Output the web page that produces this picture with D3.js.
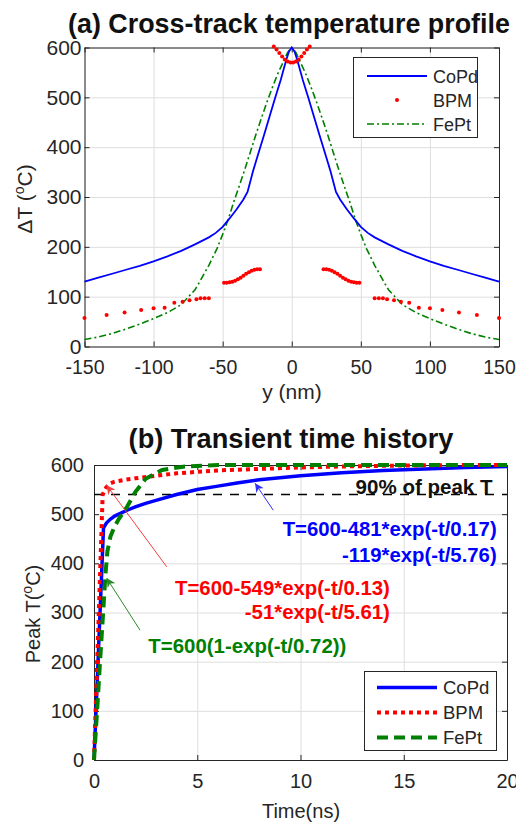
<!DOCTYPE html>
<html>
<head>
<meta charset="utf-8">
<script src="https://cdn.jsdelivr.net/npm/d3@7"></script>
<style>
  body { margin: 0; background: #fff; }
  svg { display: block; font-family: "Liberation Sans", Arial, sans-serif; }
</style>
</head>
<body>
<div id="chart"></div>
<script>
// ---- panel (a): cross-track profile ----
const copdY = [-150,-140,-130,-120,-110,-100,-90,-80,-70,-60,-55,-50,-45,-40,-35,-32,-28,-24,-20,-16,-12,-8,-6,-4,-2,0,2,4,6,8,12,16,20,24,28,32,35,40,45,50,55,60,70,80,90,100,110,120,130,140,150];
const copdT = [130,138,146,154,162,171,181,192,205,219,228,240,257,275,295,310,352,389,425,462,499,535,555,575,592,600,592,575,555,535,499,462,425,389,352,310,295,275,257,240,228,219,205,192,181,171,162,154,146,138,130];

const feptY = [-150,-140,-130,-120,-110,-100,-90,-80,-70,-66,-60,-54,-50,-46,-42,-38,-34,-30,-26,-22,-18,-14,-10,-6,-3,0,3,6,10,14,18,22,26,30,34,38,42,46,50,54,60,66,70,80,90,100,110,120,130,140,150];
const feptT = [14,19,26,35,45,56,68,84,114,133,163,197,225,255,290,322,355,390,425,458,490,520,548,572,590,600,590,572,548,520,490,458,425,390,355,322,290,255,225,197,163,133,114,84,68,56,45,35,26,19,14];

const bpmY = [-150,-134,-121,-109,-100,-92,-85,-79,-74,-69,-66,-63,-60,
  -49,-47,-45,-43,-41,-39,-37,-35,-33,-31,-29,-27,-25,-23,
  -13,-11,-9,-7,-5,-3,-1,1,3,5,7,9,11,13,
  23,25,27,29,31,33,35,37,39,41,43,45,47,49,
  60,63,66,69,74,79,85,92,100,109,121,134,150];
const bpmT = [57,63,68,73,77,78,88,90,93,95,97,97,97,
  128,128,129,130,132,135,138,142,146,149,152,154,155,155,
  602,596,589,582,576,572,570,570,572,576,582,589,596,602,
  155,155,154,152,149,146,142,138,135,132,130,129,128,128,
  97,97,97,95,93,90,88,78,77,73,68,63,57];

const xTicksA = [-150,-100,-50,0,50,100,150];
const yTicks = [0,100,200,300,400,500,600];

// ---- panel (b): transient history ----
const timeCoPd = [0,0.46,0.6,0.8,1,1.2,1.6,2,2.5,3,4,5,6,7,8,10,12,14,16,18,20];
const peakCoPd = [0,472,482,490,496,500,508,515,522,528,540,550,557,564,570,578,584,589,592,595,597];

const timeBPM = [0,0.42,0.6,0.8,1,1.5,2,3,4,5,6,8,10,12,15,18,20];
const peakBPM = [0,540,555,563,566,570,573,578,583,586,589,592,595,597,599,600,600];

const timeFePt = [0,0.15,0.3,0.45,0.55,0.65,0.8,1,1.2,1.6,2,2.5,3.3,4.4,6,8,20];
const peakFePt = [0,100,205,305,375,425,455,475,490,515,545,572,590,597,600,600,600];

const xTicksB = [0,5,10,15,20];
const peakLevel = 540; // 90% of peak T

// ---- helpers ----
const W = 516, H = 824;
const svg = d3.select("#chart").append("svg").attr("width", W).attr("height", H);
const axisCol = "#262626";
const blue = "#0000ff", red = "#ff0000", green = "#008000";

function zip(a, b) { return a.map((v, i) => [v, b[i]]); }

// shrink/grow a text's font so it spans the width seen in the reference
function fit(sel, w) {
  const len = sel.node().getComputedTextLength();
  const fs = parseFloat(sel.style("font-size"));
  sel.style("font-size", (fs * w / len).toFixed(2) + "px");
  return sel;
}

function frame(x, y, xt, yt, xfs, yfs, yPad) {
  const [x0, x1] = x.range(), [y0, y1] = y.range();
  const g = svg.append("g");
  const fmt = d => String(d);
  // grid
  const grid = g.append("g");
  grid.append("g").attr("transform", `translate(0,${y0})`)
    .call(d3.axisBottom(x).tickValues(xt).tickSize(-(y0 - y1)).tickFormat(""));
  grid.append("g").attr("transform", `translate(${x0},0)`)
    .call(d3.axisLeft(y).tickValues(yt).tickSize(-(x1 - x0)).tickFormat(""));
  grid.selectAll(".domain").remove();
  grid.selectAll("line").attr("stroke", "#dedede");
  // box + inward ticks
  const box = g.append("g");
  const bx = box.append("g").attr("transform", `translate(0,${y0})`)
    .call(d3.axisBottom(x).tickValues(xt).tickSize(-5).tickPadding(14).tickSizeOuter(0).tickFormat(fmt));
  const ly = box.append("g").attr("transform", `translate(${x0},0)`)
    .call(d3.axisLeft(y).tickValues(yt).tickSize(-5).tickPadding(yPad).tickSizeOuter(0).tickFormat(fmt));
  box.append("g").attr("transform", `translate(0,${y1})`)
    .call(d3.axisTop(x).tickValues(xt).tickSize(-5).tickFormat("").tickSizeOuter(0));
  box.append("g").attr("transform", `translate(${x1},0)`)
    .call(d3.axisRight(y).tickValues(yt).tickSize(-5).tickFormat("").tickSizeOuter(0));
  box.selectAll(".domain, .tick line").attr("stroke", axisCol);
  box.selectAll(".tick text").attr("fill", axisCol)
    .style("font-family", "'Liberation Sans', Arial, sans-serif");
  bx.selectAll(".tick text").style("font-size", xfs + "px");
  ly.selectAll(".tick text").style("font-size", yfs + "px");
  return g;
}

// ================= panel (a) =================
const xA = d3.scaleLinear().domain([-150, 150]).range([84.5, 499]);
const yA = d3.scaleLinear().domain([0, 600]).range([346.5, 47.5]);
frame(xA, yA, xTicksA, yTicks, 19.5, 21, 3);

const lineA = d3.line().x(d => xA(d[0])).y(d => yA(d[1]));
svg.append("path").datum(zip(feptY, feptT)).attr("d", lineA)
  .attr("fill", "none").attr("stroke", green).attr("stroke-width", 1.6)
  .attr("stroke-dasharray", "7,3,2,3");
svg.append("path").datum(zip(copdY, copdT)).attr("d", lineA)
  .attr("fill", "none").attr("stroke", blue).attr("stroke-width", 1.8);
svg.append("g").selectAll("circle").data(zip(bpmY, bpmT)).join("circle")
  .attr("cx", d => xA(d[0])).attr("cy", d => yA(d[1])).attr("r", 2).attr("fill", red);

fit(svg.append("text").attr("x", 289).attr("y", 33).attr("text-anchor", "middle")
  .style("font-size", "26px").style("font-weight", "bold").attr("fill", "#111")
  .text("(a) Cross-track temperature profile"), 442);
svg.append("text").attr("x", 292).attr("y", 399).attr("text-anchor", "middle")
  .style("font-size", "21px").attr("fill", axisCol).text("y (nm)");
const yla = svg.append("text").attr("transform", "translate(32,199) rotate(-90)")
  .attr("text-anchor", "middle").style("font-size", "21px").attr("fill", axisCol);
yla.append("tspan").text("\u0394T (");
yla.append("tspan").attr("dy", -8).style("font-size", "14px").text("o");
yla.append("tspan").attr("dy", 8).text("C)");

// legend (a)
const namesA = ["CoPd", "BPM", "FePt"];
const legA = svg.append("g");
legA.append("rect").attr("x", 353.5).attr("y", 57.5).attr("width", 124).attr("height", 80)
  .attr("fill", "#fff").attr("stroke", axisCol);
namesA.forEach((n, i) => {
  const yy = 76 + i * 24;
  if (i === 0) legA.append("line").attr("x1", 367).attr("x2", 427).attr("y1", yy).attr("y2", yy)
    .attr("stroke", blue).attr("stroke-width", 1.8);
  if (i === 1) legA.append("circle").attr("cx", 397).attr("cy", yy).attr("r", 2).attr("fill", red);
  if (i === 2) legA.append("line").attr("x1", 367).attr("x2", 427).attr("y1", yy).attr("y2", yy)
    .attr("stroke", green).attr("stroke-width", 1.6).attr("stroke-dasharray", "7,3,2,3");
  legA.append("text").attr("x", 433).attr("y", yy + 6.5).style("font-size", "18px")
    .attr("fill", axisCol).text(n);
});

// ================= panel (b) =================
const xB = d3.scaleLinear().domain([0, 20]).range([94, 507]);
const yB = d3.scaleLinear().domain([0, 600]).range([760, 465]);
frame(xB, yB, xTicksB, yTicks, 20, 20, 10);

const lineB = d3.line().x(d => xB(d[0])).y(d => yB(d[1]));

fit(svg.append("text").attr("x", xB(19.3)).attr("y", yB(541)).attr("text-anchor", "end")
  .style("font-size", "20px").style("font-weight", "bold").attr("fill", "#111")
  .text("90% of peak T"), 137);

svg.append("path").datum([[0, peakLevel], [20, peakLevel]]).attr("d", lineB)
  .attr("stroke", "#000").attr("stroke-width", 1.5).attr("stroke-dasharray", "9,8");

svg.append("path").datum(zip(timeCoPd, peakCoPd)).attr("d", lineB)
  .attr("fill", "none").attr("stroke", blue).attr("stroke-width", 3.5);
svg.append("path").datum(zip(timeBPM, peakBPM)).attr("d", lineB)
  .attr("fill", "none").attr("stroke", red).attr("stroke-width", 4).attr("stroke-dasharray", "4,4");
svg.append("path").datum(zip(timeFePt, peakFePt)).attr("d", lineB)
  .attr("fill", "none").attr("stroke", green).attr("stroke-width", 4).attr("stroke-dasharray", "11,6");

// annotations
const defs = svg.append("defs");
[["ah-b", "#3030ff"], ["ah-r", "#f04040"], ["ah-g", "#2a8a2a"]].forEach(([id, c]) => {
  defs.append("marker").attr("id", id).attr("viewBox", "0 0 10 10").attr("refX", 10).attr("refY", 5)
    .attr("markerWidth", 9).attr("markerHeight", 9).attr("orient", "auto")
    .attr("markerUnits", "userSpaceOnUse")
    .append("path").attr("d", "M0,0 L10,5 L0,10 L3,5 Z").attr("fill", c);
});
const arrows = [
  { from: [8.68, 508], to: [7.8, 563], c: "#3030ff", m: "ah-b" },
  { from: [3.52, 393], to: [0.61, 559], c: "#f04040", m: "ah-r" },
  { from: [2.23, 264], to: [0.61, 370], c: "#2a8a2a", m: "ah-g" }
];
arrows.forEach(a => {
  svg.append("line").attr("x1", xB(a.from[0])).attr("y1", yB(a.from[1]))
    .attr("x2", xB(a.to[0])).attr("y2", yB(a.to[1]))
    .attr("stroke", a.c).attr("stroke-width", 1).attr("marker-end", `url(#${a.m})`);
});

const notes = [
  { t: 19.5, T: 455, anchor: "end", c: blue, s: "T=600-481*exp(-t/0.17)", w: 214 },
  { t: 19.5, T: 403, anchor: "end", c: blue, s: "-119*exp(-t/5.76)", w: 0 },
  { t: 14.33, T: 336, anchor: "end", c: red, s: "T=600-549*exp(-t/0.13)", w: 215 },
  { t: 14.33, T: 287, anchor: "end", c: red, s: "-51*exp(-t/5.61)", w: 0 },
  { t: 2.63, T: 218, anchor: "start", c: green, s: "T=600(1-exp(-t/0.72))", w: 198 }
];
let noteSize = 20;
notes.forEach(n => {
  const t = svg.append("text").attr("x", xB(n.t)).attr("y", yB(n.T)).attr("text-anchor", n.anchor)
    .style("font-size", noteSize + "px").style("font-weight", "bold").attr("fill", n.c).text(n.s);
  if (n.w) { fit(t, n.w); noteSize = parseFloat(t.style("font-size")); }
});

fit(svg.append("text").attr("x", 291).attr("y", 448).attr("text-anchor", "middle")
  .style("font-size", "26px").style("font-weight", "bold").attr("fill", "#111")
  .text("(b) Transient time history"), 325);
svg.append("text").attr("x", 301).attr("y", 818).attr("text-anchor", "middle")
  .style("font-size", "20px").attr("fill", axisCol).text("Time(ns)");
const ylb = svg.append("text").attr("transform", "translate(40,614) rotate(-90)")
  .attr("text-anchor", "middle").style("font-size", "20px").attr("fill", axisCol);
ylb.append("tspan").text("Peak T(");
ylb.append("tspan").attr("dy", -8).style("font-size", "14px").text("o");
ylb.append("tspan").attr("dy", 8).text("C)");

// legend (b)
const namesB = ["CoPd", "BPM", "FePt"];
const styleB = [
  { c: blue, w: 3.5, d: null },
  { c: red, w: 4, d: "4,4" },
  { c: green, w: 4, d: "11,6" }
];
const legB = svg.append("g");
legB.append("rect").attr("x", 364.5).attr("y", 671.5).attr("width", 132).attr("height", 79)
  .attr("fill", "#fff").attr("stroke", axisCol);
namesB.forEach((n, i) => {
  const yy = 687.5 + i * 25;
  legB.append("line").attr("x1", 377).attr("x2", 437).attr("y1", yy).attr("y2", yy)
    .attr("stroke", styleB[i].c).attr("stroke-width", styleB[i].w)
    .attr("stroke-dasharray", styleB[i].d);
  legB.append("text").attr("x", 443).attr("y", yy + 6.5).style("font-size", "18.5px")
    .attr("fill", axisCol).text(n);
});
</script>
</body>
</html>
